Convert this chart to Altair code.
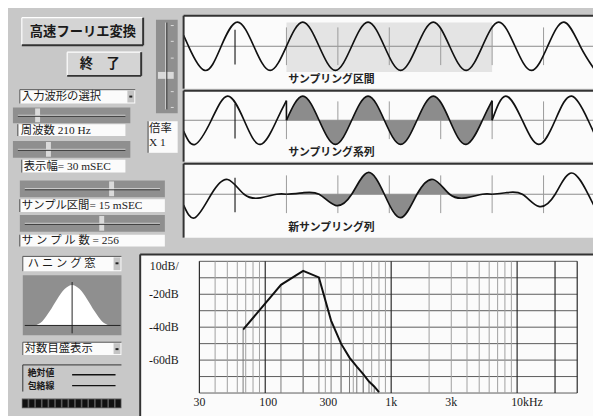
import altair as alt
import pandas as pd

OFF = 8
W, H = 593, 408
BG = "#c8c8c8"
JP = "Liberation Serif, Noto Sans CJK JP"
JPB = "Noto Sans CJK JP"

# ---------------- values ----------------
# panel 1: input wave (time ms, relative amplitude)
wave_t = [0, 0.36, 1.55, 2.74, 3.93, 5.12, 6.31, 7.5, 8.69, 9.88, 11.07, 12.26, 13.45,
          14.64, 15.83, 17.02, 18.21, 19.4, 20.6, 21.79, 22.98, 24.17, 25.36, 26.55,
          27.74, 28.93, 30]
wave_v = [0.45, 0, -1, 0, 1, 0, -1, 0, 1, 0, -1, 0, 1,
          0, -1, 0, 1, 0, -1, 0, 1, 0, -1, 0,
          1, 0, -0.99]

# panel 2: sampling series (before / inside / after the sampling interval)
pre_t = [0, 0.83, 2.02, 3.21, 4.41, 5.6, 6.79, 7.5]
in_t = [7.5, 8.69, 9.88, 11.07, 12.26, 13.45, 14.64, 15.83, 17.02, 18.21, 19.4, 20.6, 21.79, 22.5]
post_t = [22.5, 23.5, 24.7, 25.9, 27.1, 28.3, 29.5, 30]
seq_pre_v = [-0.45, -1, 0, 1, 0, -1, 0, 0.81]
seq_in_v = [0, 1, 0, -1, 0, 1, 0, -1, 0, 1, 0, -1, 0, 0.81]
seq_post_v = [0, 1, 0, -1, 0, 1, 0, -0.6]

# panel 3: new sampling series (windowed)
win_pre_v = [-0.45, -0.97, 0, 0.61, 0, -0.15, 0, 0]
win_in_v = [0, 0.06, 0, -0.46, 0, 0.9, 0, -0.97, 0, 0.61, 0, -0.15, 0, 0]
win_post_v = [0, 0.06, 0, -0.5, 0, 0.88, 0, -0.55]

sample_start, sample_end = 7.5, 22.5
wave_grid_major = [3.75]
wave_grid_minor = [7.5, 11.25, 15, 18.75, 22.5, 26.25]

# Hanning window display
hann_x = [0, 0.1, 0.2, 0.3, 0.4, 0.5, 0.6, 0.7, 0.8, 0.9, 1.0]
hann_v = [0, 0.1, 0.35, 0.65, 0.9, 1.0, 0.9, 0.65, 0.35, 0.1, 0]

# spectrum (Hz, dB)
spec_f = [66.7, 133.3, 200, 266.7, 333.3, 400, 466.7, 533.3, 600, 666.7, 733.3, 800]
spec_db = [-41.5, -14.3, -5.8, -9.8, -36, -50, -58.5, -64, -68.5, -73, -76, -79.5]
db_grid = [0, -10, -20, -30, -40, -50, -60, -70, -80]
minor_f = [40, 50, 60, 70, 80, 90, 200, 300, 400, 500, 600, 700, 800, 900,
           2000, 3000, 4000, 5000, 6000, 7000, 8000, 9000]
major_f = [30, 100, 1000, 10000, 20000, 30000]
freq_ticks = [30, 100, 300, 1000, 3000, 10000]
freq_labels = ["30", "100", "300", "1k", "3k", "10kHz"]
db_ticks = [-20, -40, -60]
db_labels = ["-20dB", "-40dB", "-60dB"]

# UI texts
button_texts = ["高速フーリエ変換", "終　了"]
ui_texts = ["入力波形の選択", "周波数 210 Hz", "表示幅= 30 mSEC", "サンプル区間= 15 mSEC",
            "サ ン プ ル 数 = 256", "ハ ニ ン グ 窓", "対数目盛表示",
            "倍率", "X 1"]
legend_texts = ["絶対値", "包絡線"]
panel_texts = ["サンプリング区間", "サンプリング系列", "新サンプリング列"]


def px(v):
    return v - OFF


# ---------------- widget layout (pixel geometry) ----------------
rects = []


def R(x0, y0, x1, y1, fill):
    rects.append(dict(x=px(x0), y=px(y0), x2=px(x1), y2=px(y1), fill=fill))


rules = []


def L(x0, y0, x1, y1, color, w=1.0):
    rules.append(dict(x=px(x0), y=px(y0), x2=px(x1), y2=px(y1), color=color, w=w))


panels = [(13, 87), (89, 161), (163, 238)]
for y0, y1 in panels:
    R(186, y0, 615, y1, "#fbfbfb")
R(142, 255, 615, 420, "#fbfbfb")

buttons = [(22, 15, 145, 43), (68, 50, 143, 74)]
for b in buttons:
    R(*b, "#d4d4d4")
drops = [(20, 88, 137, 102), (23, 257, 123, 272), (23, 344, 123, 357)]
for d in drops:
    R(*d, "#fbfbfb")
    R(d[2] - 8, d[1] + 1, d[2] - 1, d[3] - 1, "#c4c4c4")
    R(d[2] - 6, d[1] + 6, d[2] - 3, d[1] + 8, "#222222")
troughs = [(13, 106, 132, 122), (13, 140, 132, 157), (20, 180, 167, 197), (20, 215, 167, 232)]
for t in troughs:
    R(*t, "#8f8f8f")
R(158, 17, 180, 112, "#8f8f8f")
boxes = [(18, 123, 127, 135), (22, 159, 127, 172), (20, 199, 167, 212), (20, 235, 167, 247),
         (150, 120, 180, 152)]
for b in boxes:
    R(*b, "#fbfbfb")
R(23, 276, 123, 337, "#8f8f8f")
R(22, 401, 123, 411, "#5a5a5a")
nb = 15
bw = (123 - 22) / nb
for i in range(nb):
    R(22 + i * bw + 0.8, 402, 22 + (i + 1) * bw - 0.8, 410, "#111111")
thumbs_x = [38, 49, 113, 103]
for t, xc in zip(troughs, thumbs_x):
    R(xc - 2.5, t[1] + 1, xc + 2.5, t[3] - 1, "#dadada")
R(160, 70, 176, 77, "#dadada")

for y0, y1 in panels:
    L(186, y0, 615, y0, "#333333", 2)
    L(186, y0, 186, y1, "#333333", 2)
L(142, 255, 615, 255, "#333333", 2)
L(142, 255, 142, 420, "#333333", 2)
for x0, y0, x1, y1 in buttons:
    L(x0, y0, x1, y0, "#ffffff", 1.2)
    L(x0, y0, x0, y1, "#ffffff", 1.2)
    L(x0, y1, x1, y1, "#333333", 2)
    L(x1, y0, x1, y1, "#333333", 2)
for x0, y0, x1, y1 in drops:
    L(x0, y0, x1, y0, "#555555", 1)
    L(x0, y0, x0, y1, "#555555", 1)
for x0, y0, x1, y1 in boxes:
    L(x0, y0, x0, y1, "#444444", 1)
for x0, y0, x1, y1 in troughs:
    ym = (y0 + y1) / 2
    L(x0 + 5, ym, x1 - 5, ym, "#e6e6e6", 1)
    L(x0 + 5, ym + 1, x1 - 5, ym + 1, "#333333", 1)
L(168, 20, 168, 108, "#e6e6e6", 1)
L(169, 20, 169, 108, "#333333", 1)
for yt in [23, 39, 56, 90, 106]:
    L(173, yt, 176, yt, "#dddddd", 1)
L(25, 327, 122, 327, "#222222", 1)
L(73, 283, 73, 335, "#222222", 1)
L(23, 367, 123, 367, "#333333", 1)
L(23, 367, 23, 394, "#333333", 1)
L(73, 377, 117, 377, "#111111", 1.5)
L(73, 388, 117, 388, "#111111", 1.5)

rect_df = pd.DataFrame(rects)
rule_df = pd.DataFrame(rules)


def pxX(f="x"):
    return alt.X(f"{f}:Q", scale=None, axis=None)


def pxY(f="y"):
    return alt.Y(f"{f}:Q", scale=None, axis=None)


rect_layer = alt.Chart(rect_df).mark_rect().encode(
    x=pxX(), x2="x2:Q", y=pxY(), y2="y2:Q",
    fill=alt.Fill("fill:N", scale=None, legend=None))
rule_layer = alt.Chart(rule_df).mark_rule().encode(
    x=pxX(), x2="x2:Q", y=pxY(), y2="y2:Q",
    color=alt.Color("color:N", scale=None, legend=None),
    strokeWidth=alt.StrokeWidth("w:Q", scale=None, legend=None))


# ---------------- waveform panels ----------------
def tsc():
    return alt.Scale(domain=[0, 30], range=[px(186), px(603)], nice=False, zero=False)


def vsc(c):
    return alt.Scale(domain=[-1, 1], range=[px(c + 24.5), px(c - 24.5)], nice=False, zero=False)


centers = [44, 119, 194]
layers = [rect_layer]

box_df = pd.DataFrame({"t0": [sample_start], "t1": [sample_end], "lo": [-1.06], "hi": [0.98]})
layers.append(alt.Chart(box_df).mark_rect(color="#e4e4e4").encode(
    x=alt.X("t0:Q", scale=tsc(), axis=None), x2="t1:Q",
    y=alt.Y("lo:Q", scale=vsc(centers[0]), axis=None), y2="hi:Q"))

for c in centers:
    zdf = pd.DataFrame({"t0": [0], "t1": [30], "v": [0]})
    layers.append(alt.Chart(zdf).mark_rule(color="#8a8a8a", strokeWidth=1).encode(
        x=alt.X("t0:Q", scale=tsc(), axis=None), x2="t1:Q",
        y=alt.Y("v:Q", scale=vsc(c), axis=None)))
    gmin = pd.DataFrame({"t": wave_grid_minor, "lo": -0.78, "hi": 0.78})
    layers.append(alt.Chart(gmin).mark_rule(color="#9a9a9a", strokeWidth=1).encode(
        x=alt.X("t:Q", scale=tsc(), axis=None),
        y=alt.Y("lo:Q", scale=vsc(c), axis=None), y2="hi:Q"))
    gmaj = pd.DataFrame({"t": wave_grid_major, "lo": -0.75, "hi": 0.68})
    layers.append(alt.Chart(gmaj).mark_rule(color="#222222", strokeWidth=1.2).encode(
        x=alt.X("t:Q", scale=tsc(), axis=None),
        y=alt.Y("lo:Q", scale=vsc(c), axis=None), y2="hi:Q"))


def seg_df(parts):
    rows = []
    for name, ts, vs in parts:
        for t, v in zip(ts, vs):
            rows.append(dict(seg=name, t=t, v=v, zero=0))
    return pd.DataFrame(rows)


p1 = seg_df([("a", wave_t, wave_v)])
p2 = seg_df([("a", pre_t, seq_pre_v), ("b", in_t, seq_in_v), ("c", post_t, seq_post_v)])
p3 = seg_df([("a", pre_t, win_pre_v), ("b", in_t, win_in_v), ("c", post_t, win_post_v)])
fill2 = seg_df([("b", in_t, seq_in_v)])
fill3 = seg_df([("b", in_t, win_in_v)])

for fdf, c in [(fill2, centers[1]), (fill3, centers[2])]:
    layers.append(alt.Chart(fdf).mark_area(interpolate="natural", color="#8c8c8c").encode(
        x=alt.X("t:Q", scale=tsc(), axis=None),
        y=alt.Y("v:Q", scale=vsc(c), axis=None), y2="zero:Q"))

jump_df = pd.DataFrame({"t": [in_t[0], post_t[0]],
                        "a": [seq_pre_v[-1], seq_in_v[-1]],
                        "b": [seq_in_v[0], seq_post_v[0]]})
layers.append(alt.Chart(jump_df).mark_rule(color="#111111", strokeWidth=1.6).encode(
    x=alt.X("t:Q", scale=tsc(), axis=None),
    y=alt.Y("a:Q", scale=vsc(centers[1]), axis=None), y2="b:Q"))

for pdf, c in [(p1, centers[0]), (p2, centers[1]), (p3, centers[2])]:
    layers.append(alt.Chart(pdf).mark_line(interpolate="natural", color="#111111",
                                           strokeWidth=1.7).encode(
        x=alt.X("t:Q", scale=tsc(), axis=None),
        y=alt.Y("v:Q", scale=vsc(c), axis=None),
        detail="seg:N"))


# ---------------- spectrum ----------------
def fsc():
    return alt.Scale(type="log", domain=[30, 30000], range=[px(202), px(585)], nice=False)


def dsc():
    return alt.Scale(domain=[-80, 0], range=[px(395.5), px(262)], nice=False, zero=False)


hg = pd.DataFrame({"db": db_grid, "f0": 30, "f1": 30000})
layers.append(alt.Chart(hg).mark_rule(color="#5a5a5a", strokeWidth=1).encode(
    x=alt.X("f0:Q", scale=fsc(), axis=None), x2="f1:Q",
    y=alt.Y("db:Q", scale=dsc(), axis=None)))
vg = pd.DataFrame({"f": minor_f, "lo": -80, "hi": 0})
layers.append(alt.Chart(vg).mark_rule(color="#a0a0a0", strokeWidth=1).encode(
    x=alt.X("f:Q", scale=fsc(), axis=None),
    y=alt.Y("lo:Q", scale=dsc(), axis=None), y2="hi:Q"))
vm = pd.DataFrame({"f": major_f, "lo": -80, "hi": 0})
layers.append(alt.Chart(vm).mark_rule(color="#2a2a2a", strokeWidth=1.2).encode(
    x=alt.X("f:Q", scale=fsc(), axis=None),
    y=alt.Y("lo:Q", scale=dsc(), axis=None), y2="hi:Q"))
sp = pd.DataFrame({"f": spec_f, "db": spec_db, "floor": -80})
layers.append(alt.Chart(sp).mark_rule(color="#7a7a7a", strokeWidth=1).encode(
    x=alt.X("f:Q", scale=fsc(), axis=None),
    y=alt.Y("floor:Q", scale=dsc(), axis=None), y2="db:Q"))
layers.append(alt.Chart(sp).mark_line(color="#111111", strokeWidth=2).encode(
    x=alt.X("f:Q", scale=fsc(), axis=None),
    y=alt.Y("db:Q", scale=dsc(), axis=None)))

fl = pd.DataFrame({"f": freq_ticks, "label": freq_labels})
layers.append(alt.Chart(fl).mark_text(font="Liberation Serif", fontSize=12, align="left",
                                      dx=-6, baseline="middle", color="#1a1a1a").encode(
    x=alt.X("f:Q", scale=fsc(), axis=None), y=alt.value(px(405)), text="label:N"))
dl = pd.DataFrame({"db": db_ticks, "label": db_labels})
layers.append(alt.Chart(dl).mark_text(font="Liberation Serif", fontSize=12, align="right",
                                      baseline="middle", color="#1a1a1a").encode(
    x=alt.value(px(181)), y=alt.Y("db:Q", scale=dsc(), axis=None), text="label:N"))
layers.append(alt.Chart(pd.DataFrame({"label": ["10dB/"]})).mark_text(
    font="Liberation Serif", fontSize=12, align="right", baseline="middle",
    color="#1a1a1a").encode(x=alt.value(px(181)), y=alt.value(px(267)), text="label:N"))

# ---------------- Hanning window display ----------------
hd = pd.DataFrame({"x": hann_x, "v": hann_v, "zero": 0})
layers.append(alt.Chart(hd).mark_area(interpolate="monotone", color="#ffffff").encode(
    x=alt.X("x:Q", scale=alt.Scale(domain=[0, 1], range=[px(35), px(111)], nice=False,
                                   zero=False), axis=None),
    y=alt.Y("v:Q", scale=alt.Scale(domain=[0, 1], range=[px(327), px(286)], nice=False,
                                   zero=False), axis=None),
    y2="zero:Q"))

layers.append(rule_layer)

# ---------------- texts ----------------
btn_pos = [(84, 29.5), (101, 62)]
bt = pd.DataFrame({"x": [px(a) for a, b in btn_pos], "y": [px(b) for a, b in btn_pos],
                   "label": button_texts})
layers.append(alt.Chart(bt).mark_text(font=JPB, fontSize=13.5, fontWeight="bold",
                                      align="center", baseline="middle",
                                      color="#1a1a1a").encode(
    x=pxX(), y=pxY(), text="label:N"))
ui_pos = [(22, 95.5), (21, 129.5), (24, 166), (22, 206), (22, 241.5), (28, 265),
          (25, 351), (151, 128), (151, 142)]
ut = pd.DataFrame({"x": [px(a) for a, b in ui_pos], "y": [px(b) for a, b in ui_pos],
                   "label": ui_texts})
layers.append(alt.Chart(ut).mark_text(font=JP, fontSize=11.5, align="left",
                                      baseline="middle", color="#1a1a1a").encode(
    x=pxX(), y=pxY(), text="label:N"))
lg_pos = [(28, 375.5), (28, 388.5)]
lg = pd.DataFrame({"x": [px(a) for a, b in lg_pos], "y": [px(b) for a, b in lg_pos],
                   "label": legend_texts})
layers.append(alt.Chart(lg).mark_text(font=JPB, fontSize=9, fontWeight="bold", align="left",
                                      baseline="middle", color="#1a1a1a").encode(
    x=pxX(), y=pxY(), text="label:N"))
pt_pos = [(292, 78), (292, 152), (292, 228)]
ptd = pd.DataFrame({"x": [px(a) for a, b in pt_pos], "y": [px(b) for a, b in pt_pos],
                    "label": panel_texts})
layers.append(alt.Chart(ptd).mark_text(font=JPB, fontSize=11, fontWeight="bold",
                                       align="left", baseline="middle",
                                       color="#222222").encode(
    x=pxX(), y=pxY(), text="label:N"))

chart = alt.layer(*layers).resolve_scale(
    x="independent", y="independent", color="independent", fill="independent",
    strokeWidth="independent"
).properties(
    width=W, height=H, background=BG, padding=0,
    autosize=alt.AutoSizeParams(type="none")
).configure_view(stroke=None)

chart.save("out.html", embed_options={"renderer": "svg", "actions": False})
